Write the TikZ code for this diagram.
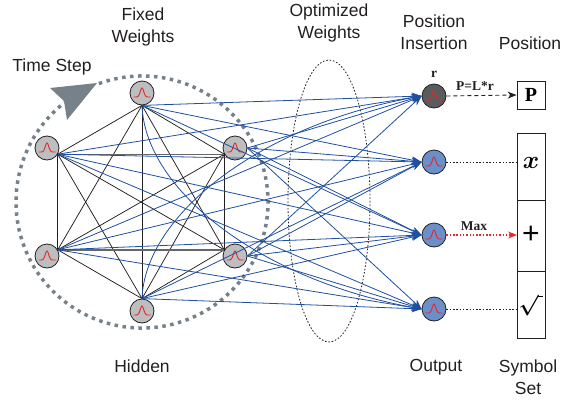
\documentclass[tikz,border=0pt]{standalone}
\usepackage{amsmath}
\usepackage{fontspec}
\setmainfont{Liberation Sans}
\newfontfamily\tnr{Liberation Serif}
\usetikzlibrary{arrows.meta,calc}
\definecolor{hidfill}{HTML}{BDBEC0}
\definecolor{outfill}{HTML}{6B90C9}
\definecolor{posfill}{HTML}{5A5B5D}
\definecolor{linkblue}{HTML}{1F4FA0}
\definecolor{ringgray}{HTML}{76818A}
\definecolor{txt}{HTML}{231F20}
\definecolor{bumpred}{HTML}{E8262B}
\tikzset{
  neuron/.style={circle, draw=txt, line width=0.8pt, minimum size=24pt, inner sep=0pt},
  hid/.style={neuron, fill=hidfill},
  outn/.style={neuron, fill=outfill},
  posn/.style={neuron, fill=posfill},
  bump/.pic={\draw[bumpred, line width=0.9pt] plot[domain=-8.5:8.5, samples=41, smooth] (\x,{4-9*exp(-((\x)*(\x))/6)});},
  fixedlink/.style={draw=txt, line width=0.75pt},
  graylink/.style={draw=gray!80!black, line width=1.4pt},
  bluelink/.style={draw=linkblue, line width=0.8pt, -{Stealth[length=10pt,width=7.5pt]}},
  bluecurve/.style={draw=linkblue, line width=0.8pt, -{Stealth[length=10pt,width=7.5pt]}},
  lbl/.style={font=\fontsize{17.5}{21.5}\selectfont, text=txt, align=center, inner sep=0pt},
  serlbl/.style={font=\tnr\bfseries\fontsize{13.5}{15}\selectfont, text=txt, inner sep=0pt},
  symbox/.style={draw=txt, line width=0.9pt},
}
\begin{document}
\begin{tikzpicture}[x=1pt,y=-1pt]
\useasboundingbox (0,0) rectangle (564,399);

% time step ring
\draw[ringgray, line width=3.5pt, dash pattern=on 3.5pt off 4.5pt]
  (142,202) ++(-110:126) arc[start angle=-110, end angle=232, radius=126];
\fill[ringgray] (50,88) -- (97,83) -- (67,120) -- (64,101) -- cycle;

% optimized weights ellipse
\draw[txt, line width=0.8pt, dash pattern=on 1.6pt off 1.8pt] (329,201) ellipse[x radius=41, y radius=141];

% hidden nodes
\node[hid] (h1) at (142,93) {};
\node[hid] (h2) at (47,148) {};
\node[hid] (h3) at (235,148) {};
\node[hid] (h4) at (47,256) {};
\node[hid] (h5) at (235,256) {};
\node[hid] (h6) at (142,311) {};

% output nodes
\node[posn] (o1) at (434,96) {};
\node[outn] (o2) at (434,162) {};
\node[outn] (o3) at (434,235) {};
\node[outn] (o4) at (434,309) {};

\foreach \n in {h1,h2,h3,h4,h5,h6,o1,o2,o3,o4} {\pic at (\n) {bump};}

% fixed weights (complete graph)
\coordinate (b1) at (h1.south);
\coordinate (b2) at (h2.-30);
\coordinate (b3) at (h3.-150);
\coordinate (b4) at (h4.30);
\coordinate (b5) at (h5.150);
\coordinate (b6) at (h6.north);
\foreach \a/\b in {b1/b2,b1/b3,b1/b4,b1/b5,b1/b6,b2/b4,b2/b5,b2/b6,b3/b4,b3/b5,b3/b6,b4/b6,b5/b6}
  {\path[fixedlink] (\a) -- (\b);}
\path[graylink] (b2) -- (b3);
\path[graylink] (b4) -- (b5);

% optimized weights
\coordinate (s1) at (h1.south);
\coordinate (s2) at (h2.-30);
\coordinate (s3) at (h3.east);
\coordinate (s4) at (h4.30);
\coordinate (s5) at (h5.east);
\coordinate (s6) at (h6.north);
\foreach \a/\b in {s1/o1,s1/o2,s1/o3,s2/o1,s2/o2,s2/o3,s2/o4,s3/o1,s3/o2,s3/o3,s3/o4,s4/o1,s4/o2,s4/o3,s4/o4,s5/o1,s5/o2,s5/o3,s5/o4,s6/o2,s6/o3,s6/o4}
  {\path[bluelink] (\a) -- (\b.west);}
\path[bluecurve] (s1) .. controls (145,190) and (260,280) .. (o4.west);
\path[bluecurve] (s6) .. controls (145,215) and (260,125) .. (o1.west);

% symbol set boxes
\node[symbox, minimum width=28pt, minimum height=28pt, inner sep=0pt, font=\tnr\bfseries\fontsize{20}{22}\selectfont] (pbox) at (531,95) {P};
\draw[symbox] (517,133) rectangle (545,338);
\draw[symbox] (517,200) -- (545,200);
\draw[symbox] (517,271) -- (545,271);
\node[inner sep=0pt, font=\fontsize{27}{29}\selectfont] (sx) at (531,163) {$\boldsymbol{x}$};
\node[inner sep=0pt, font=\fontsize{30}{32}\selectfont] (splus) at (531,235) {+};
\node[inner sep=0pt, font=\fontsize{21}{23}\selectfont] (ssq) at (531,306) {$\boldsymbol{\surd}$\rule[14pt]{5pt}{1.4pt}};

\coordinate (bx) at (517,162);
\coordinate (bp) at (517,235);
\coordinate (bs) at (517,309);

\draw[txt, line width=0.9pt, dash pattern=on 4pt off 3pt, -{Stealth[length=9pt,width=7pt]}] (o1.east) -- (pbox.west);
\draw[txt, line width=0.9pt, dash pattern=on 1.5pt off 1.8pt] (o2.east) -- (bx);
\draw[bumpred, line width=1.1pt, dash pattern=on 1.5pt off 1.8pt, -{Stealth[length=9pt,width=7pt]}] (o3.east) -- (bp);
\draw[txt, line width=0.9pt, dash pattern=on 1.5pt off 1.8pt] (o4.east) -- (bs);

% serif labels
\node[serlbl] (lr) at (434,74) {r};
\node[serlbl] (lpl) at (475,86) {P=L*r};
\node[serlbl] (lmax) at (474,226) {Max};

% sans labels
\node[lbl] (tfixed) at (143,27) {Fixed\\Weights};
\node[lbl] (ttime) at (52,67) {Time Step};
\node[lbl] (topt) at (329,23) {Optimized\\Weights};
\node[lbl] (tpi) at (434,32) {Position\\Insertion};
\node[lbl] (tpos) at (530,43) {Position};
\node[lbl] (thid) at (142,366) {Hidden};
\node[lbl] (tout) at (436,367) {Output};
\node[lbl] (tsym) at (528,377) {Symbol\\Set};
\end{tikzpicture}
\end{document}
